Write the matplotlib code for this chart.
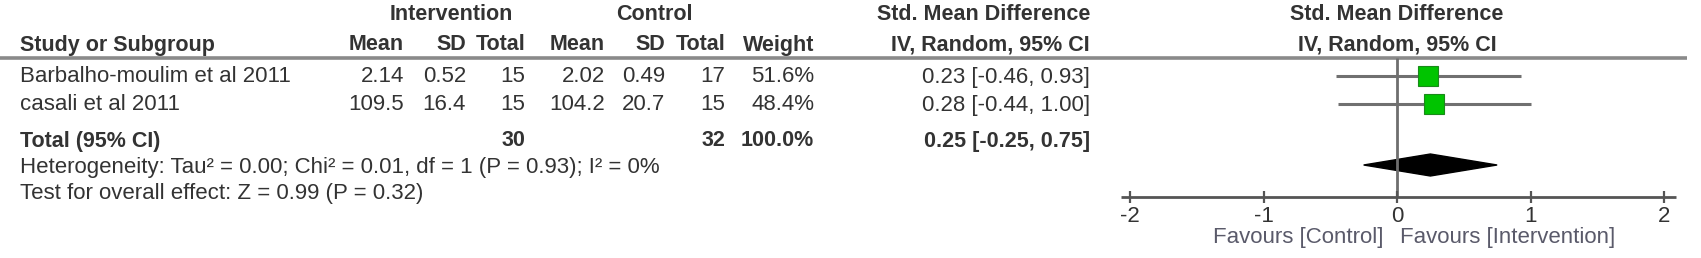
import matplotlib.pyplot as plt
from matplotlib.patches import Polygon

# study data
studies = ["Barbalho-moulim et al 2011", "casali et al 2011"]
int_mean = [2.14, 109.5]
int_sd = [0.52, 16.4]
int_n = [15, 15]
ctl_mean = [2.02, 104.2]
ctl_sd = [0.49, 20.7]
ctl_n = [17, 15]
weights = [51.6, 48.4]
smd = [0.23, 0.28]
ci_low = [-0.46, -0.44]
ci_high = [0.93, 1.00]

# pooled result
total_int_n = 30
total_ctl_n = 32
total_smd = 0.25
total_low = -0.25
total_high = 0.75
heterogeneity = "Heterogeneity: Tau² = 0.00; Chi² = 0.01, df = 1 (P = 0.93); I² = 0%"
overall = "Test for overall effect: Z = 0.99 (P = 0.32)"
ticks = [-2, -1, 0, 1, 2]

plt.rcParams["font.family"] = ["Liberation Sans", "DejaVu Sans"]
txt = "#333333"
fs = 16
fsb = 15.5

fig = plt.figure(figsize=(17.01, 2.58), dpi=100)

# table part, in pixel units
tab = fig.add_axes([0, 0, 1, 1])
tab.set_xlim(0, 1701)
tab.set_ylim(258, 0)
tab.axis("off")

row_y = [77, 105]
total_y = 141

tab.text(451, 14, "Intervention", ha="center", va="center", fontsize=fsb, fontweight="bold", color=txt)
tab.text(654, 14, "Control", ha="center", va="center", fontsize=fsb, fontweight="bold", color=txt)
tab.text(1090, 14, "Std. Mean Difference", ha="right", va="center", fontsize=fsb, fontweight="bold", color=txt)

cols = [404, 466, 525, 605, 665, 725, 814, 1090]
heads = ["Mean", "SD", "Total", "Mean", "SD", "Total", "Weight", "IV, Random, 95% CI"]
tab.text(20, 45, "Study or Subgroup", ha="left", va="center", fontsize=fsb, fontweight="bold", color=txt)
for x, s in zip(cols, heads):
    tab.text(x, 45, s, ha="right", va="center", fontsize=fsb, fontweight="bold", color=txt)

tab.plot([0, 1687], [57.5, 57.5], color="#8a8a8a", lw=2.6, solid_capstyle="butt")

for i, name in enumerate(studies):
    y = row_y[i]
    vals = [str(int_mean[i]), str(int_sd[i]), str(int_n[i]), str(ctl_mean[i]),
            str(ctl_sd[i]), str(ctl_n[i]), f"{weights[i]:.1f}%",
            f"{smd[i]:.2f} [{ci_low[i]:.2f}, {ci_high[i]:.2f}]"]
    tab.text(20, y, name, ha="left", va="center", fontsize=fs, color=txt)
    for x, s in zip(cols, vals):
        tab.text(x, y, s, ha="right", va="center", fontsize=fs, color=txt)

tot_cells = [(20, "Total (95% CI)", "left"), (cols[2], str(total_int_n), "right"),
             (cols[5], str(total_ctl_n), "right"), (cols[6], f"{sum(weights):.1f}%", "right"),
             (cols[7], f"{total_smd:.2f} [{total_low:.2f}, {total_high:.2f}]", "right")]
for x, s, ha in tot_cells:
    tab.text(x, total_y, s, ha=ha, va="center", fontsize=fsb, fontweight="bold", color=txt)

tab.text(20, 168, heterogeneity, ha="left", va="center", fontsize=fs, color=txt)
tab.text(20, 193, overall, ha="left", va="center", fontsize=fs, color=txt)

# forest plot part
px_unit = 133.5
zero_px = 1397
ax = fig.add_axes([1100 / 1701, 0, 601 / 1701, 1])
ax.set_xlim((1100 - zero_px) / px_unit, (1701 - zero_px) / px_unit)
ax.set_ylim(258, 0)
ax.axis("off")

ax.text(0, 14, "Std. Mean Difference", ha="center", va="center", fontsize=fsb, fontweight="bold", color=txt)
ax.text(0, 45, "IV, Random, 95% CI", ha="center", va="center", fontsize=fsb, fontweight="bold", color=txt)

axis_y = 197
mark_y = [76, 104]
ax.vlines(0, 57.5, axis_y, color="#6e6e6e", lw=2)
for i in range(len(studies)):
    y = mark_y[i]
    ax.hlines(y, ci_low[i], ci_high[i], color="#707070", lw=2.2)
    ax.plot(smd[i], y, marker="s", markersize=14 * (weights[i] / 50) ** 0.5,
            markerfacecolor="#00c400", markeredgecolor="#1a8a1a", markeredgewidth=0.8)

dia_y = 165
dia = Polygon([(total_low, dia_y), (total_smd, dia_y - 11),
               (total_high, dia_y), (total_smd, dia_y + 11)],
              closed=True, facecolor="black", edgecolor="black")
ax.add_patch(dia)

ax.hlines(axis_y, ticks[0] - 0.07, ticks[-1] + 0.09, color="#555555", lw=2)
ax.vlines(ticks, axis_y - 6, axis_y + 6, color="#555555", lw=1.6)
for t in ticks:
    ax.text(t, 217, str(t), ha="center", va="center", fontsize=fs, color=txt)

ax.text(-14 / px_unit, 238, "Favours [Control]", ha="right", va="center", fontsize=fs, color="#5a5a6a")
ax.text(3 / px_unit, 238, "Favours [Intervention]", ha="left", va="center", fontsize=fs, color="#5a5a6a")

fig.savefig("out.png", dpi=100)
